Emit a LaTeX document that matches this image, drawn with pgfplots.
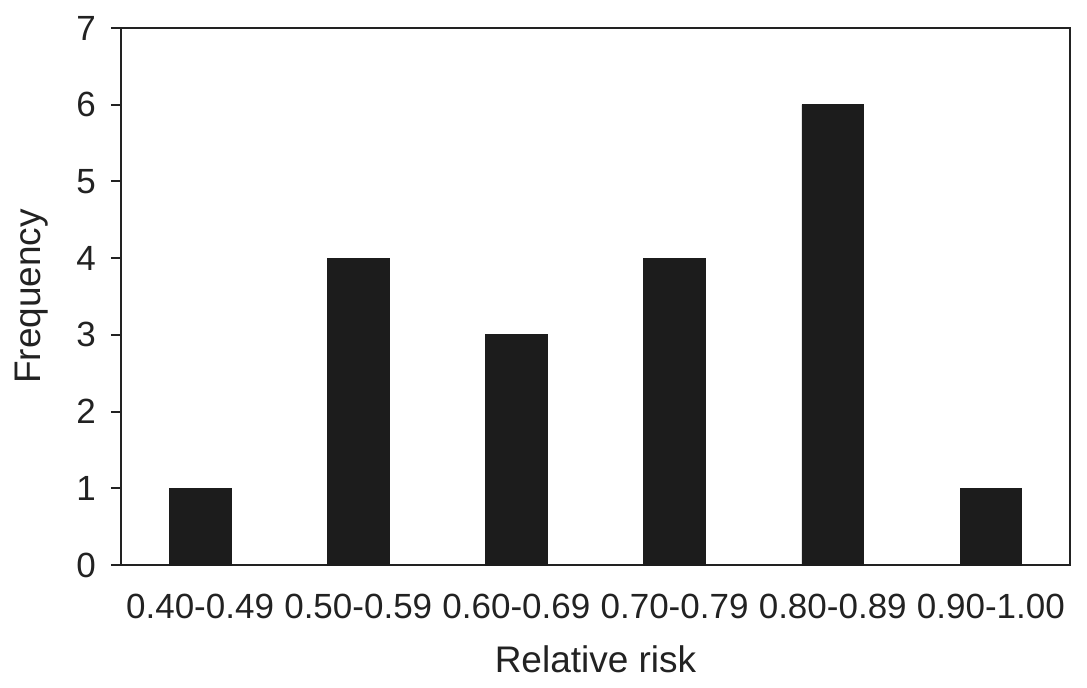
\documentclass[border=0pt]{standalone}
\usepackage{pgfplots}
\pgfplotsset{compat=1.18}
\usepackage{fontspec}
\setmainfont{Liberation Sans}
\definecolor{barc}{HTML}{1C1C1C}
\definecolor{txt}{HTML}{222222}
\begin{document}
\begin{tikzpicture}
\useasboundingbox (-60.5pt,-61pt) rectangle (483pt,282.5pt);
\begin{axis}[
  at={(0,0)}, anchor=south west,
  width=474.5pt, height=268.5pt,
  scale only axis,
  xmin=-0.5, xmax=5.5,
  ymin=0, ymax=7,
  ytick={0,1,...,7},
  xtick={0,1,2,3,4,5},
  xticklabels={0.40-0.49,0.50-0.59,0.60-0.69,0.70-0.79,0.80-0.89,0.90-1.00},
  major tick length=5pt,
  xtick style={draw=none},
  ytick align=outside,
  ytick pos=left,
  axis line style={line width=1pt, draw=txt},
  ytick style={line width=1pt, draw=txt},
  /pgf/number format/assume math mode=true,
  tick label style={font=\fontsize{17.5}{20}\selectfont, text=txt},
  label style={font=\fontsize{18.5}{22}\selectfont, text=txt},
  yticklabel style={xshift=-4pt},
  xticklabel style={anchor=base, yshift=-26.5pt},
  xlabel={Relative risk},
  ylabel={Frequency},
  xlabel style={at={(axis description cs:0.5,0)}, anchor=base, yshift=-53.5pt},
  ylabel style={at={(axis description cs:0,0.5)}, anchor=base, yshift=40pt},
]
\addplot[ybar, bar width=0.39, fill=barc, draw=barc] coordinates {
  (0,1) (1,4) (2,3) (3,4) (4,6) (5,1)
};
\end{axis}
\end{tikzpicture}
\end{document}
